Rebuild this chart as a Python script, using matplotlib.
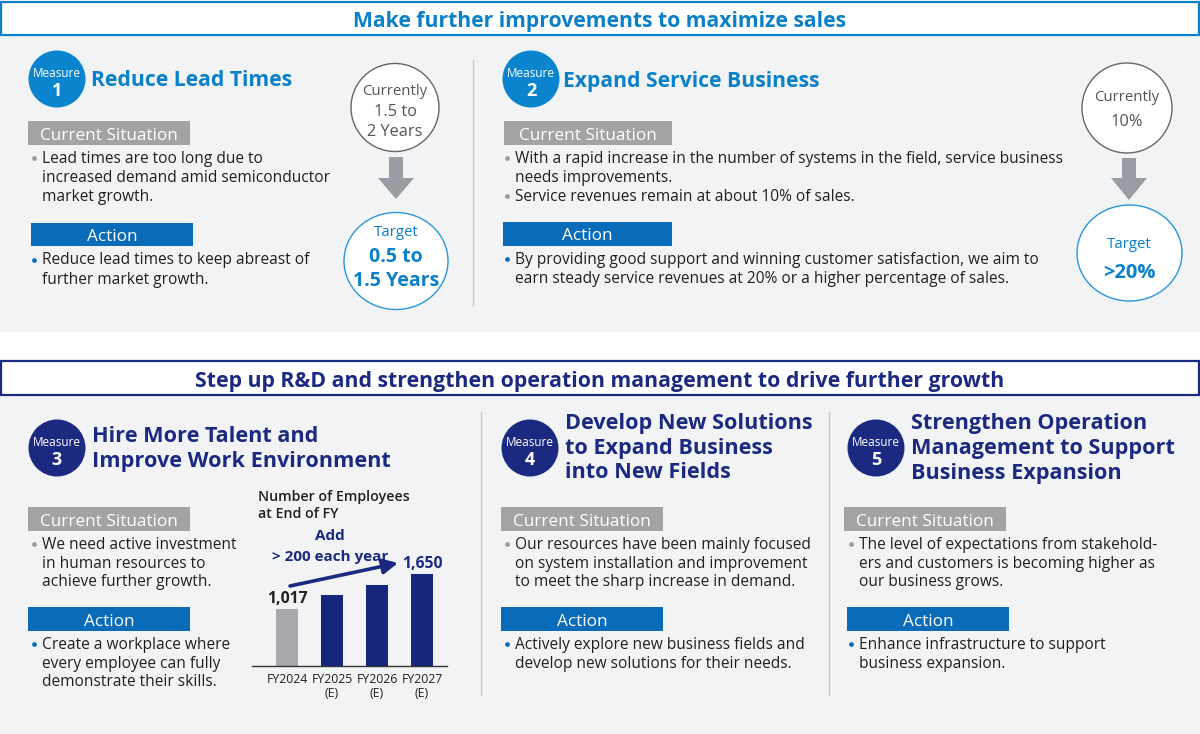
import matplotlib
matplotlib.use("Agg")
import matplotlib.pyplot as plt
from matplotlib.patches import Rectangle, Circle, Ellipse, Polygon

plt.rcParams['font.family'] = ['Open Sans', 'DejaVu Sans']

# ---------------- data ----------------
fiscal_years = ["FY2024", "FY2025\n(E)", "FY2026\n(E)", "FY2027\n(E)"]
employees = [1017, 1280, 1460, 1650]

banner_top = "Make further improvements to maximize sales"
banner_bottom = "Step up R&D and strengthen operation management to drive further growth"

m1_title = ["Reduce Lead Times"]
m1_situation = [["Lead times are too long due to", "increased demand amid semiconductor", "market growth."]]
m1_action = [["Reduce lead times to keep abreast of", "further market growth."]]
m1_current = ["Currently", "1.5 to", "2 Years"]
m1_target = ["0.5 to", "1.5 Years"]

m2_title = ["Expand Service Business"]
m2_situation = [["With a rapid increase in the number of systems in the field, service business", "needs improvements."],
                ["Service revenues remain at about 10% of sales."]]
m2_action = [["By providing good support and winning customer satisfaction, we aim to",
              "earn steady service revenues at 20% or a higher percentage of sales."]]
m2_current = ["Currently", "10%"]
m2_target = [">20%"]

m3_title = ["Hire More Talent and", "Improve Work Environment"]
m3_situation = [["We need active investment", "in human resources to", "achieve further growth."]]
m3_action = [["Create a workplace where", "every employee can fully", "demonstrate their skills."]]

m4_title = ["Develop New Solutions", "to Expand Business", "into New Fields"]
m4_situation = [["Our resources have been mainly focused", "on system installation and improvement",
                 "to meet the sharp increase in demand."]]
m4_action = [["Actively explore new business fields and", "develop new solutions for their needs."]]

m5_title = ["Strengthen Operation", "Management to Support", "Business Expansion"]
m5_situation = [["The level of expectations from stakehold-", "ers and customers is becoming higher as",
                 "our business grows."]]
m5_action = [["Enhance infrastructure to support", "business expansion."]]

chart_title = "Number of Employees\nat End of FY"
growth_note = ["Add", "> 200 each year"]

# ---------------- styles ----------------
BG = "#f2f3f5"
BLUE = "#0a80c8"
BLUE_CIRCLE = "#0b84cf"
ACTION = "#0a6cb9"
GREYBOX = "#a3a3a3"
NAVY = "#1b2a80"
BARNAVY = "#16267c"
BARGREY = "#a7a9af"
TXT = "#231f20"
CTXT = "#555555"
SEP = "#c9cacc"

W, H = 1200, 734
DY = 2.5  # visual centring correction for text

fig = plt.figure(figsize=(W / 100, H / 100), dpi=100)
ax = fig.add_axes([0, 0, 1, 1])
ax.set_xlim(0, W)
ax.set_ylim(H, 0)
ax.axis("off")


def T(x, y, s, **kw):
    kw.setdefault("va", "center")
    return ax.text(x, y + DY, s, **kw)


# backgrounds
ax.add_patch(Rectangle((0, 0), W, H, facecolor="white", edgecolor="none", zorder=0))
ax.add_patch(Rectangle((0, 36), W, 296, facecolor=BG, edgecolor="none", zorder=0))
ax.add_patch(Rectangle((0, 396), W, H - 396, facecolor=BG, edgecolor="none", zorder=0))

# banners
ax.add_patch(Rectangle((1, 2), W - 2, 33, facecolor="white", edgecolor=BLUE, lw=1.6, zorder=1))
T(600, 18.5, banner_top, color=BLUE, fontsize=15.2, fontweight="bold", ha="center")
ax.add_patch(Rectangle((1, 361), W - 2, 34, facecolor="white", edgecolor=NAVY, lw=1.6, zorder=1))
T(600, 378.5, banner_bottom, color=NAVY, fontsize=15.3, fontweight="bold", ha="center")

# separators
ax.plot([473, 473], [60, 305], color=SEP, lw=1)
ax.plot([481, 481], [412, 695], color=SEP, lw=1)
ax.plot([829, 829], [412, 695], color=SEP, lw=1)

BODY = 11.2
LINE = 19


def measure_head(cx, cy, num, color, title_lines, tx, ty, tcolor, lh=25, tsize=15.2):
    ax.add_patch(Circle((cx, cy), 28.5, facecolor=color, edgecolor="none", zorder=2))
    T(cx, cy - 8, "Measure", color="white", fontsize=8.5, ha="center", zorder=3)
    T(cx, cy + 9.5, str(num), color="white", fontsize=13, fontweight="bold", ha="center", zorder=3)
    for i, t in enumerate(title_lines):
        T(tx, ty + i * lh, t, color=tcolor, fontsize=tsize, fontweight="bold", ha="left")


def label_box(x0, x1, y0, y1, text, fc):
    ax.add_patch(Rectangle((x0, y0), x1 - x0, y1 - y0, facecolor=fc, edgecolor="none", zorder=2))
    T((x0 + x1) / 2, (y0 + y1) / 2, text, color="white", fontsize=12.3, ha="center", zorder=3)


def bullets(x, y, items, bcolor, lh=LINE):
    k = 0
    for item in items:
        for j, line in enumerate(item):
            yy = y + k * lh
            if j == 0:
                ax.plot(x + 4, yy + 1.5, "o", ms=3.4, color=bcolor, mec="none")
            T(x + 12, yy, line, color=TXT, fontsize=BODY, ha="left")
            k += 1


def ring(cx, cy, w, h, ec):
    ax.add_patch(Ellipse((cx, cy), w, h, facecolor="white", edgecolor=ec, lw=1.0, zorder=2))


def down_arrow(cx, y0, y1, y2):
    pts = [(cx - 7, y0), (cx + 7, y0), (cx + 7, y1), (cx + 18, y1), (cx, y2), (cx - 18, y1), (cx - 7, y1)]
    ax.add_patch(Polygon(pts, closed=True, facecolor="#9a9ca3", edgecolor="none", zorder=2))


# ---------- Measure 1 ----------
measure_head(57, 79, 1, BLUE_CIRCLE, m1_title, 91, 78.5, BLUE)
label_box(28, 190, 121, 145, "Current Situation", GREYBOX)
bullets(30, 156.5, m1_situation, "#9a9a9a")
label_box(31, 193, 223, 246, "Action", ACTION)
bullets(30, 258, m1_action, ACTION)

ring(395, 107.5, 88, 88, "#666666")
T(395, 89, m1_current[0], color=CTXT, fontsize=10.8, ha="center", zorder=3)
T(395, 109.5, m1_current[1], color=CTXT, fontsize=11.8, ha="center", zorder=3)
T(395, 130, m1_current[2], color=CTXT, fontsize=11.8, ha="center", zorder=3)
down_arrow(396, 157, 178, 199)
ring(396, 261, 104, 97, "#2a95d8")
T(396, 230, "Target", color=BLUE, fontsize=10.8, ha="center", zorder=3)
T(396, 255, m1_target[0], color=BLUE, fontsize=14, fontweight="bold", ha="center", zorder=3)
T(396, 278, m1_target[1], color=BLUE, fontsize=14, fontweight="bold", ha="center", zorder=3)

# ---------- Measure 2 ----------
measure_head(531, 79, 2, BLUE_CIRCLE, m2_title, 563, 78.5, BLUE)
label_box(504, 672, 121, 145, "Current Situation", GREYBOX)
bullets(503, 156.5, m2_situation, "#9a9a9a")
label_box(503, 672, 222, 246, "Action", ACTION)
bullets(503, 257.5, m2_action, ACTION)

ring(1127, 108, 90, 90, "#666666")
T(1127, 95, m2_current[0], color=CTXT, fontsize=10.8, ha="center", zorder=3)
T(1127, 119, m2_current[1], color=CTXT, fontsize=11.8, ha="center", zorder=3)
down_arrow(1129, 158, 178, 200)
ring(1129.5, 253, 105, 96, "#2a95d8")
T(1129.5, 242, "Target", color=BLUE, fontsize=10.8, ha="center", zorder=3)
T(1129.5, 271, m2_target[0], color=BLUE, fontsize=14.5, fontweight="bold", ha="center", zorder=3)

# ---------- Measure 3 ----------
measure_head(57, 448, 3, NAVY, m3_title, 92, 434, NAVY, lh=25, tsize=15.6)
label_box(28, 190, 507, 531, "Current Situation", GREYBOX)
bullets(30, 542.5, m3_situation, "#9a9a9a", lh=18.7)
label_box(28, 190, 607, 631, "Action", ACTION)
bullets(30, 642.5, m3_action, ACTION, lh=18.7)

T(258, 503, chart_title, color=TXT, fontsize=10.2, fontweight="semibold",
  ha="left", linespacing=1.22)
T(330, 534, growth_note[0], color=NAVY, fontsize=11, fontweight="bold", ha="center")
T(330, 554, growth_note[1], color=NAVY, fontsize=11, fontweight="bold", ha="center")
ax.annotate("", xy=(398, 563), xytext=(290, 586),
            arrowprops=dict(arrowstyle="-|>,head_length=0.9,head_width=0.45", color=NAVY, lw=2.6,
                            shrinkA=0, shrinkB=0))

# bar chart (inset axes)
L, R, B, Tp = 252, 447, 666, 560
bax = fig.add_axes([L / W, (H - B) / H, (R - L) / W, (B - Tp) / H])
bax.patch.set_alpha(0)
xs = list(range(len(employees)))
bar_colors = [BARGREY] + [BARNAVY] * (len(employees) - 1)
bax.bar(xs, employees, width=0.49, color=bar_colors, zorder=2)
bax.set_xlim(-0.778, 3.556)
bax.set_ylim(0, 1900)
for s in ["top", "right", "left"]:
    bax.spines[s].set_visible(False)
bax.spines["bottom"].set_color("#333333")
bax.spines["bottom"].set_linewidth(1.0)
bax.set_yticks([])
bax.set_xticks(xs)
bax.set_xticklabels(fiscal_years, fontsize=8.8, color=TXT, linespacing=1.1)
bax.tick_params(axis="x", length=0, pad=5)
for i in (0, len(employees) - 1):
    bax.annotate(f"{employees[i]:,}", (xs[i], employees[i]), xytext=(0, 1.5), textcoords="offset points",
                 ha="center", va="bottom", fontsize=11.3, fontweight="bold",
                 color=TXT if i == 0 else NAVY)

# ---------- Measure 4 ----------
measure_head(530, 448, 4, NAVY, m4_title, 565, 421.5, NAVY, lh=24.5, tsize=15.6)
label_box(501, 663, 507, 531, "Current Situation", GREYBOX)
bullets(503, 542.5, m4_situation, "#9a9a9a", lh=18.7)
label_box(501, 663, 607, 631, "Action", ACTION)
bullets(503, 642.5, m4_action, ACTION, lh=18.7)

# ---------- Measure 5 ----------
measure_head(876, 448, 5, NAVY, m5_title, 911, 421.5, NAVY, lh=24.5, tsize=15.6)
label_box(844, 1006, 507, 531, "Current Situation", GREYBOX)
bullets(847, 542.5, m5_situation, "#9a9a9a", lh=18.7)
label_box(847, 1009, 607, 631, "Action", ACTION)
bullets(847, 642.5, m5_action, ACTION, lh=18.7)

fig.savefig("out.png", dpi=100)
